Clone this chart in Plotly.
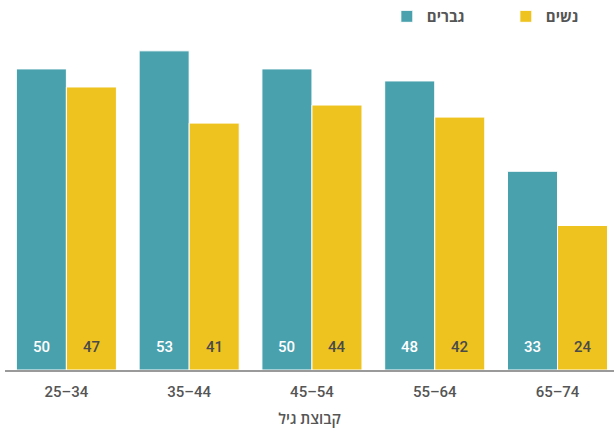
import plotly.graph_objects as go

categories = ["25–34", "35–44", "45–54", "55–64", "65–74"]
men = [50, 53, 50, 48, 33]
women = [47, 41, 44, 42, 24]
men_name = "גברים"
women_name = "נשים"
axis_title = "קבוצת גיל"

teal = "#4aa1ae"
yellow = "#eec320"
font_family = "Roboto, 'Open Sans', 'Noto Sans', sans-serif"
w = 500

fig = go.Figure()
fig.add_trace(go.Bar(x=categories, y=men, name=men_name, marker=dict(color=teal, line=dict(color="white", width=1))))
fig.add_trace(go.Bar(x=categories, y=women, name=women_name, marker=dict(color=yellow, line=dict(color="white", width=1))))

for i, c in enumerate(categories):
    fig.add_annotation(x=c, y=0, xref="x", yref="y", text=str(men[i]), showarrow=False,
                       xshift=-25, yshift=23, font=dict(color="white", size=15, family=font_family, weight=w))
    fig.add_annotation(x=c, y=0, xref="x", yref="y", text=str(women[i]), showarrow=False,
                       xshift=25, yshift=23, font=dict(color="#4a4a4a", size=15, family=font_family, weight=w))

fig.update_layout(
    width=614, height=428,
    margin=dict(l=5, r=0, t=40, b=58, autoexpand=False),
    plot_bgcolor="white", paper_bgcolor="white",
    barmode="group", bargap=0.185, bargroupgap=0.0,
    font=dict(family=font_family, color="#555555"),
    showlegend=True,
    legend=dict(orientation="h", x=0.627, y=1.021, xanchor="left", yanchor="bottom",
                font=dict(size=15, color="#555555", family=font_family, weight="bold"),
                entrywidth=74, entrywidthmode="pixels", itemwidth=30, traceorder="normal"),
    xaxis=dict(range=[-0.5, 4.46], showline=True, linecolor="#9a9a9a", linewidth=2,
               ticks="", ticklabelstandoff=7, tickfont=dict(size=15, color="#555555", weight=w),
               title=dict(text=axis_title, font=dict(size=15, color="#555555", weight=600), standoff=15),
               showgrid=False, fixedrange=True, automargin=False),
    yaxis=dict(range=[0, 54.8], visible=False, showgrid=False, fixedrange=True),
)

fig.write_html("out.html", config={"displayModeBar": False},
               post_script="document.body.style.margin='0';document.body.style.padding='0';")
